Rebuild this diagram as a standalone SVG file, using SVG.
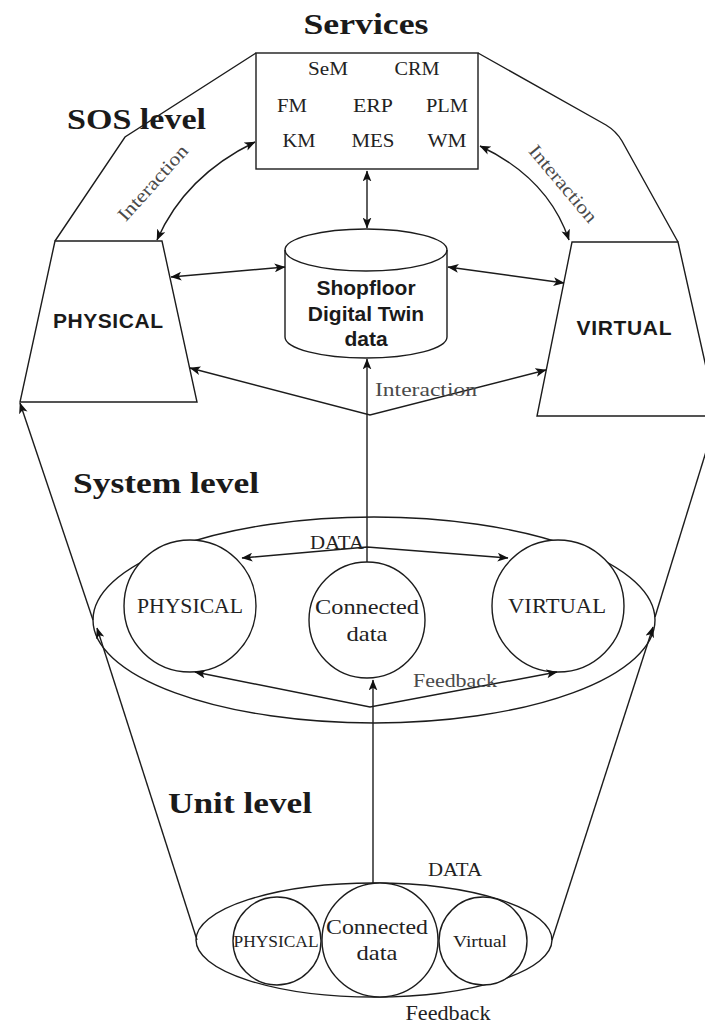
<svg xmlns="http://www.w3.org/2000/svg" width="705" height="1025" viewBox="0 0 705 1025">
  <style>
    .ln { fill: none; stroke: #1c1c1c; stroke-width: 1.4; }
    .shape { fill: #ffffff; stroke: #1c1c1c; stroke-width: 1.4; }
    .title { font-family: "Liberation Serif", "Times New Roman", serif; font-weight: bold; font-size: 30px; fill: #1a1a1a; }
    .lbl { font-family: "Liberation Serif", "Times New Roman", serif; fill: #222222; text-anchor: middle; }
    .soft { fill: #4a4a4a; }
    .sans { font-family: "Liberation Sans", Arial, sans-serif; font-weight: bold; fill: #1a1a1a; text-anchor: middle; }
  </style>
  <defs>
    <marker id="ah" viewBox="0 0 10 8" refX="9.5" refY="4" markerWidth="11" markerHeight="9" markerUnits="userSpaceOnUse" orient="auto-start-reverse">
      <path d="M0,0 L10,4 L0,8 L2.5,4 z" fill="#111111"/>
    </marker>
  </defs>

  <rect width="705" height="1025" fill="#ffffff"/>

  <!-- level titles -->
  <g id="titles">
    <text class="title" x="366" y="34" text-anchor="middle" textLength="125" lengthAdjust="spacingAndGlyphs">Services</text>
    <text class="title" x="67" y="129" textLength="139" lengthAdjust="spacingAndGlyphs">SOS level</text>
    <text class="title" x="73" y="493" textLength="186" lengthAdjust="spacingAndGlyphs">System level</text>
    <text class="title" x="168" y="813" textLength="144" lengthAdjust="spacingAndGlyphs">Unit level</text>
  </g>

  <!-- outer hull of the SOS level -->
  <g id="sos-hull">
    <path class="ln" d="M256,53 L125,137 L55,241"/>
    <path class="ln" d="M478,53 L606,125 Q616,131 622,141 L678,242"/>
  </g>

  <!-- services box -->
  <g id="services">
    <rect class="shape" x="256" y="53" width="222" height="116"/>
    <g class="lbl" font-size="18">
      <text x="328" y="75" textLength="40" lengthAdjust="spacingAndGlyphs">SeM</text>
      <text x="417" y="75" textLength="45" lengthAdjust="spacingAndGlyphs">CRM</text>
      <text x="292" y="112" textLength="30" lengthAdjust="spacingAndGlyphs">FM</text>
      <text x="373" y="112" textLength="40" lengthAdjust="spacingAndGlyphs">ERP</text>
      <text x="447" y="112" textLength="42" lengthAdjust="spacingAndGlyphs">PLM</text>
      <text x="299" y="147" textLength="33" lengthAdjust="spacingAndGlyphs">KM</text>
      <text x="373" y="147" textLength="43" lengthAdjust="spacingAndGlyphs">MES</text>
      <text x="447" y="147" textLength="39" lengthAdjust="spacingAndGlyphs">WM</text>
    </g>
  </g>

  <!-- SOS physical twin -->
  <g id="sos-physical">
    <path class="shape" d="M55,241 L162,241 L197,402 L20,402 Z"/>
    <text class="sans" x="108" y="328" font-size="21" textLength="110" lengthAdjust="spacing">PHYSICAL</text>
  </g>

  <!-- SOS virtual twin -->
  <g id="sos-virtual">
    <path class="shape" d="M572,242 L678,242 L717,416 L537,416 Z"/>
    <text class="sans" x="624" y="335" font-size="21" textLength="95" lengthAdjust="spacing">VIRTUAL</text>
  </g>

  <!-- shopfloor digital twin data store -->
  <g id="dt-data">
    <path class="shape" d="M285,250 A81,21 0 0 1 447,250 L447,337 A81,21 0 0 1 285,337 Z"/>
    <path class="ln" d="M285,250 A81,21 0 0 0 447,250"/>
    <g class="sans" font-size="21">
      <text x="366" y="295">Shopfloor</text>
      <text x="366" y="321">Digital Twin</text>
      <text x="366" y="346">data</text>
    </g>
  </g>

  <!-- system level -->
  <g id="system-ring">
    <ellipse class="ln" cx="374" cy="620" rx="281" ry="103"/>
  </g>
  <g id="system-physical">
    <circle class="shape" cx="190" cy="606" r="66"/>
    <text class="lbl" x="190" y="613" font-size="20" textLength="106" lengthAdjust="spacingAndGlyphs">PHYSICAL</text>
  </g>
  <g id="system-connected">
    <ellipse class="shape" cx="367" cy="620" rx="58" ry="58"/>
    <text class="lbl" x="367" y="614" font-size="21" textLength="104" lengthAdjust="spacingAndGlyphs">Connected</text>
    <text class="lbl" x="367" y="641" font-size="21" textLength="41" lengthAdjust="spacingAndGlyphs">data</text>
  </g>
  <g id="system-virtual">
    <circle class="shape" cx="558" cy="606" r="66"/>
    <text class="lbl" x="557" y="613" font-size="20" textLength="98" lengthAdjust="spacingAndGlyphs">VIRTUAL</text>
  </g>

  <!-- unit level -->
  <g id="unit-ring">
    <ellipse class="ln" cx="374" cy="940" rx="178" ry="57"/>
  </g>
  <g id="unit-physical">
    <circle class="shape" cx="277" cy="941" r="44"/>
    <text class="lbl" x="276" y="947" font-size="17" textLength="85" lengthAdjust="spacingAndGlyphs">PHYSICAL</text>
  </g>
  <g id="unit-connected">
    <ellipse class="shape" cx="380" cy="940" rx="58" ry="57"/>
    <text class="lbl" x="377" y="934" font-size="21" textLength="102" lengthAdjust="spacingAndGlyphs">Connected</text>
    <text class="lbl" x="377" y="960" font-size="21" textLength="41" lengthAdjust="spacingAndGlyphs">data</text>
  </g>
  <g id="unit-virtual">
    <circle class="shape" cx="483" cy="941" r="44"/>
    <text class="lbl" x="480" y="947" font-size="17" textLength="54" lengthAdjust="spacingAndGlyphs">Virtual</text>
  </g>

  <!-- connectors -->
  <g id="connectors" class="ln" marker-end="url(#ah)">
    <!-- services <-> data store -->
    <path d="M367,171 L367,228" marker-start="url(#ah)"/>
    <!-- services <-> physical / virtual -->
    <path d="M255,142 Q185,176 157,240" marker-start="url(#ah)"/>
    <path d="M480,146 Q548,178 569,240" marker-start="url(#ah)"/>
    <!-- data store <-> physical / virtual -->
    <path d="M171,277 L285,267" marker-start="url(#ah)"/>
    <path d="M448,267 L564,283" marker-start="url(#ah)"/>
    <!-- interaction between physical and virtual -->
    <path d="M190,368 L370,415 L546,370" marker-start="url(#ah)"/>
    <!-- system connected data up to the data store -->
    <path d="M367,562 L367,359"/>
    <!-- system DATA link -->
    <path d="M242,558 L367,547 L508,558" marker-start="url(#ah)"/>
    <!-- system feedback -->
    <path d="M195,672 L370,707 L557,672" marker-start="url(#ah)"/>
    <!-- unit connected data up to the system -->
    <path d="M373,883 L373,680"/>
    <!-- hull sides, unit to system -->
    <path d="M197,940 L97,628"/>
    <path d="M552,940 L653,627"/>
    <!-- hull sides, system to SOS -->
    <path d="M93,620 L20,403"/>
    <path d="M655,617 L717,416"/>
  </g>

  <!-- connector labels -->
  <g id="connector-labels" class="lbl">
    <text class="soft" transform="translate(153,183) rotate(-48)" x="0" y="6" font-size="19" textLength="95" lengthAdjust="spacingAndGlyphs">Interaction</text>
    <text class="soft" transform="translate(563,184) rotate(50)" x="0" y="6" font-size="19" textLength="95" lengthAdjust="spacingAndGlyphs">Interaction</text>
    <text class="soft" x="426" y="396" font-size="19" textLength="102" lengthAdjust="spacingAndGlyphs">Interaction</text>
    <text x="337" y="549" font-size="18" textLength="54" lengthAdjust="spacingAndGlyphs">DATA</text>
    <text class="soft" x="455" y="687" font-size="19" textLength="84" lengthAdjust="spacingAndGlyphs">Feedback</text>
    <text x="455" y="876" font-size="19" textLength="54" lengthAdjust="spacingAndGlyphs">DATA</text>
    <text x="448" y="1020" font-size="20" textLength="85" lengthAdjust="spacingAndGlyphs">Feedback</text>
  </g>
</svg>
